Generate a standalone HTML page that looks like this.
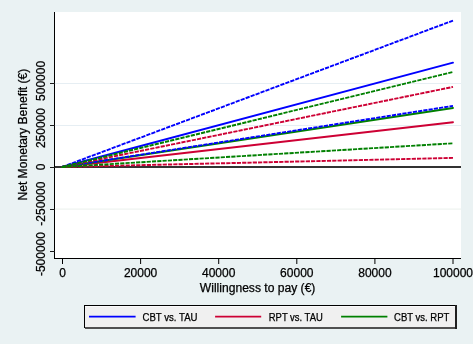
<!DOCTYPE html>
<html><head><meta charset="utf-8"><style>
html,body{margin:0;padding:0;background:#eaf2f3;}
svg{display:block;will-change:transform;}
text{font-family:"Liberation Sans",sans-serif;fill:#000;stroke:#000;stroke-width:0.25px;}
</style></head><body>
<svg width="473" height="344" viewBox="0 0 473 344">
<rect x="0" y="0" width="473" height="344" fill="#eaf2f3"/>
<rect x="55" y="12" width="406" height="246" fill="#ffffff"/>
<rect x="55" y="83" width="406" height="1" fill="#e6eef3"/>
<rect x="55" y="125" width="406" height="1" fill="#e6eef3"/>
<rect x="55" y="208.5" width="406" height="1.2" fill="#eef3ef"/>
<rect x="55" y="166" width="406" height="2" fill="#333333"/>
<line x1="62.0" y1="167.0" x2="453.0" y2="62.7" stroke="#0000ff" stroke-width="1.9" stroke-linecap="round"/>
<line x1="62.0" y1="167.0" x2="453.0" y2="122.2" stroke="#cd0034" stroke-width="1.9" stroke-linecap="round"/>
<line x1="62.0" y1="167.0" x2="453.0" y2="108.0" stroke="#008000" stroke-width="1.9" stroke-linecap="round"/>
<line x1="62.0" y1="167.0" x2="453.0" y2="20.6" stroke="#0000ff" stroke-width="1.9" stroke-dasharray="4.2 1.1"/>
<line x1="62.0" y1="167.0" x2="453.0" y2="105.9" stroke="#0000ff" stroke-width="1.9" stroke-dasharray="4.2 1.1"/>
<line x1="62.0" y1="167.0" x2="453.0" y2="86.9" stroke="#cd0034" stroke-width="1.9" stroke-dasharray="4.2 1.1"/>
<line x1="62.0" y1="167.0" x2="453.0" y2="157.9" stroke="#cd0034" stroke-width="1.9" stroke-dasharray="4.2 1.1"/>
<line x1="62.0" y1="167.0" x2="453.0" y2="72.0" stroke="#008000" stroke-width="1.9" stroke-dasharray="4.2 1.1"/>
<line x1="62.0" y1="167.0" x2="453.0" y2="143.3" stroke="#008000" stroke-width="1.9" stroke-dasharray="4.2 1.1"/>
<rect x="54" y="12" width="1" height="247" fill="#000"/>
<rect x="54" y="258" width="407" height="1" fill="#000"/>
<rect x="50" y="83" width="5" height="1" fill="#1a1a1a"/>
<rect x="50" y="125" width="5" height="1" fill="#1a1a1a"/>
<rect x="50" y="167" width="5" height="1" fill="#1a1a1a"/>
<rect x="50" y="209" width="5" height="1" fill="#1a1a1a"/>
<rect x="50" y="251" width="5" height="1" fill="#1a1a1a"/>
<rect x="62.0" y="259" width="1" height="5" fill="#000"/>
<rect x="140.1" y="259" width="1" height="5" fill="#000"/>
<rect x="218.2" y="259" width="1" height="5" fill="#000"/>
<rect x="296.3" y="259" width="1" height="5" fill="#000"/>
<rect x="374.4" y="259" width="1" height="5" fill="#000"/>
<rect x="452.5" y="259" width="1" height="5" fill="#000"/>
<text x="62.5" y="276.8" font-size="12" text-anchor="middle">0</text>
<text x="140.6" y="276.8" font-size="12" text-anchor="middle">20000</text>
<text x="218.7" y="276.8" font-size="12" text-anchor="middle">40000</text>
<text x="296.8" y="276.8" font-size="12" text-anchor="middle">60000</text>
<text x="374.9" y="276.8" font-size="12" text-anchor="middle">80000</text>
<text x="453.0" y="276.8" font-size="12" text-anchor="middle">100000</text>
<text x="257.6" y="292.2" font-size="12" text-anchor="middle" textLength="115.6" lengthAdjust="spacingAndGlyphs">Willingness to pay (&#8364;)</text>
<text transform="translate(45.3,80.9) rotate(-90)" font-size="12" text-anchor="middle">500000</text>
<text transform="translate(45.3,128.1) rotate(-90)" font-size="12" text-anchor="middle">250000</text>
<text transform="translate(45.3,166.8) rotate(-90)" font-size="12" text-anchor="middle">0</text>
<text transform="translate(45.3,203.7) rotate(-90)" font-size="12" text-anchor="middle">-250000</text>
<text transform="translate(45.3,254.1) rotate(-90)" font-size="12" text-anchor="middle">-500000</text>
<text transform="translate(27.3,134.6) rotate(-90)" font-size="12" text-anchor="middle" textLength="132" lengthAdjust="spacingAndGlyphs">Net Monetary Benefit (&#8364;)</text>
<rect x="84.5" y="305.5" width="371.5" height="22" fill="#f0f0f0" stroke="#000" stroke-width="1"/>
<rect x="85" y="306" width="370" height="1" fill="#fafafa"/>
<rect x="85" y="327" width="371" height="2" fill="#505050"/>
<rect x="455" y="305" width="2" height="24" fill="#202020"/>
<line x1="89" y1="316.7" x2="135.6" y2="316.7" stroke="#0000ff" stroke-width="1.8"/>
<text x="142.5" y="320.6" font-size="10.0" textLength="55.0" lengthAdjust="spacingAndGlyphs">CBT vs. TAU</text>
<line x1="215.1" y1="316.7" x2="261.2" y2="316.7" stroke="#cd0034" stroke-width="1.8"/>
<text x="268.79999999999995" y="320.6" font-size="10.0" textLength="54.0" lengthAdjust="spacingAndGlyphs">RPT vs. TAU</text>
<line x1="341.1" y1="316.7" x2="387.4" y2="316.7" stroke="#008000" stroke-width="1.8"/>
<text x="394.0" y="320.6" font-size="10.0" textLength="55.4" lengthAdjust="spacingAndGlyphs">CBT vs. RPT</text>
</svg>
</body></html>
